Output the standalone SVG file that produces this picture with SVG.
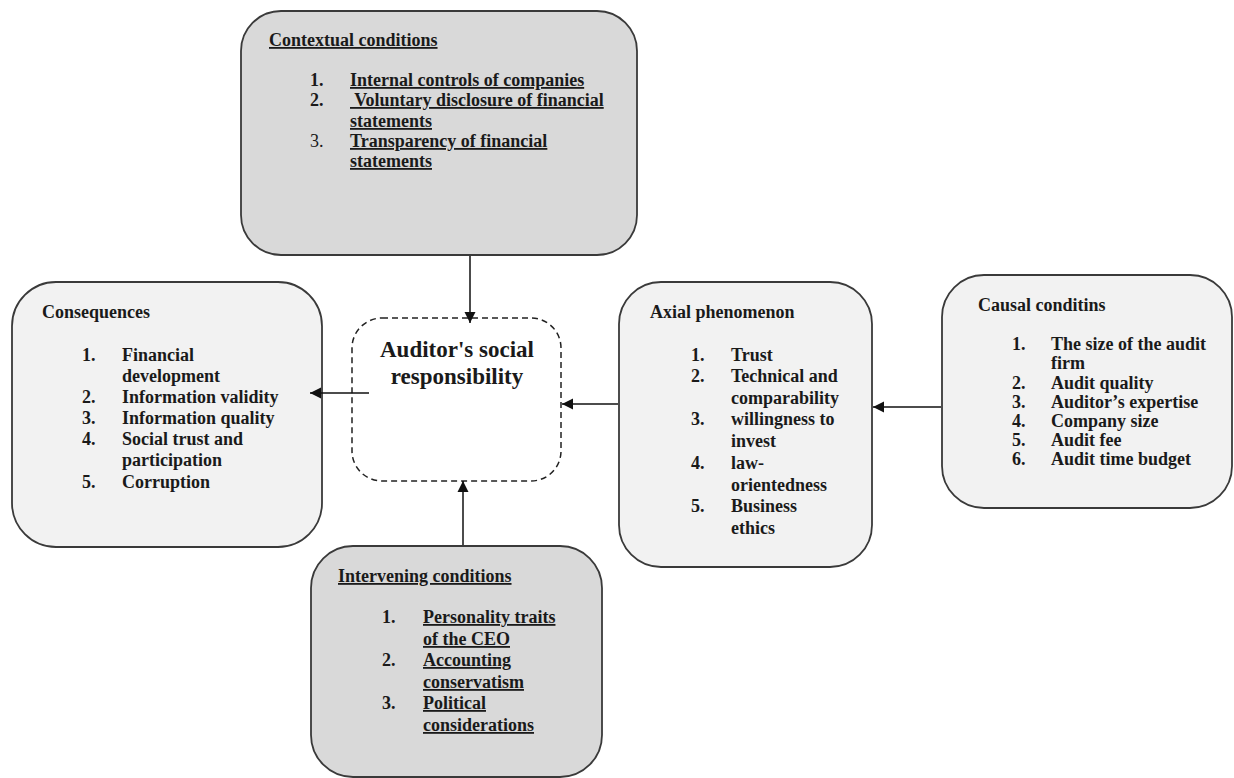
<svg xmlns="http://www.w3.org/2000/svg" width="1234" height="778" viewBox="0 0 1234 778">
<style>
text{font-family:"Liberation Serif","Times New Roman",serif;font-size:18px;font-weight:bold;fill:#1a1a1a}
.u{text-decoration:underline}
.n{font-weight:normal}
.t{font-size:23px}
.dark{fill:#d9d9d9;stroke:#3a3a3a;stroke-width:1.8}
.light{fill:#f2f2f2;stroke:#3a3a3a;stroke-width:1.8}
.conn{stroke:#111;stroke-width:1.5;fill:none;marker-end:url(#ah)}
</style>
<defs>
<marker id="ah" markerWidth="12" markerHeight="12" refX="11" refY="6" orient="auto" markerUnits="userSpaceOnUse">
<path d="M0,0.5 L11,6 L0,11.5 z" fill="#111"/>
</marker>
</defs>
<rect width="1234" height="778" fill="#fff"/>

<g id="contextual">
<rect class="dark" x="241" y="11" width="396" height="244" rx="40"/>
<text x="269" y="46" class="u">Contextual conditions</text>
<text x="310" y="86">1.</text><text x="350" y="86" class="u">Internal controls of companies</text>
<text x="310" y="106">2.</text><text x="350" y="106" class="u" xml:space="preserve"> Voluntary disclosure of financial</text>
<text x="350" y="127" class="u">statements</text>
<text x="310" y="147" class="n">3.</text><text x="350" y="147" class="u">Transparency of financial</text>
<text x="350" y="167" class="u">statements</text>
</g>

<g id="consequences">
<rect class="light" x="12" y="282" width="310" height="265" rx="44"/>
<text x="42" y="318">Consequences</text>
<text x="82" y="361">1.</text><text x="122" y="361">Financial</text>
<text x="122" y="382">development</text>
<text x="82" y="403">2.</text><text x="122" y="403">Information validity</text>
<text x="82" y="424">3.</text><text x="122" y="424">Information quality</text>
<text x="82" y="445">4.</text><text x="122" y="445">Social trust and</text>
<text x="122" y="466">participation</text>
<text x="82" y="488">5.</text><text x="122" y="488">Corruption</text>
</g>

<g id="center">
<rect x="352" y="318" width="209" height="163" rx="30" fill="#fff" stroke="#222" stroke-width="1.5" stroke-dasharray="6,4"/>
<text x="457" y="357" text-anchor="middle" class="t">Auditor's social</text>
<text x="457" y="384" text-anchor="middle" class="t">responsibility</text>
</g>

<g id="axial">
<rect class="light" x="619" y="282" width="253" height="285" rx="42"/>
<text x="650" y="318">Axial phenomenon</text>
<text x="691" y="361">1.</text><text x="731" y="361">Trust</text>
<text x="691" y="382">2.</text><text x="731" y="382">Technical and</text>
<text x="731" y="404">comparability</text>
<text x="691" y="425">3.</text><text x="731" y="425">willingness to</text>
<text x="731" y="447">invest</text>
<text x="691" y="469">4.</text><text x="731" y="469">law-</text>
<text x="731" y="491">orientedness</text>
<text x="691" y="512">5.</text><text x="731" y="512">Business</text>
<text x="731" y="534">ethics</text>
</g>

<g id="causal">
<rect class="light" x="942" y="275" width="290" height="233" rx="42"/>
<text x="978" y="311">Causal conditins</text>
<text x="1012" y="350">1.</text><text x="1051" y="350">The size of the audit</text>
<text x="1051" y="369">firm</text>
<text x="1012" y="389">2.</text><text x="1051" y="389">Audit quality</text>
<text x="1012" y="408">3.</text><text x="1051" y="408">Auditor’s expertise</text>
<text x="1012" y="427">4.</text><text x="1051" y="427">Company size</text>
<text x="1012" y="446">5.</text><text x="1051" y="446">Audit fee</text>
<text x="1012" y="465">6.</text><text x="1051" y="465">Audit time budget</text>
</g>

<g id="intervening">
<rect class="dark" x="311" y="546" width="291" height="231" rx="42"/>
<text x="338" y="582" class="u">Intervening conditions</text>
<text x="382" y="623">1.</text><text x="423" y="623" class="u">Personality traits</text>
<text x="423" y="645" class="u">of the CEO</text>
<text x="382" y="666">2.</text><text x="423" y="666" class="u">Accounting</text>
<text x="423" y="688" class="u">conservatism</text>
<text x="382" y="709">3.</text><text x="423" y="709" class="u">Political</text>
<text x="423" y="731" class="u">considerations</text>
</g>

<g id="connectors">
<line class="conn" x1="470" y1="256" x2="470" y2="323"/>
<line class="conn" x1="369" y1="393" x2="310" y2="393"/>
<line class="conn" x1="618" y1="404" x2="562" y2="404"/>
<line class="conn" x1="941" y1="407" x2="873" y2="407"/>
<line class="conn" x1="463" y1="545" x2="463" y2="481"/>
</g>
</svg>
